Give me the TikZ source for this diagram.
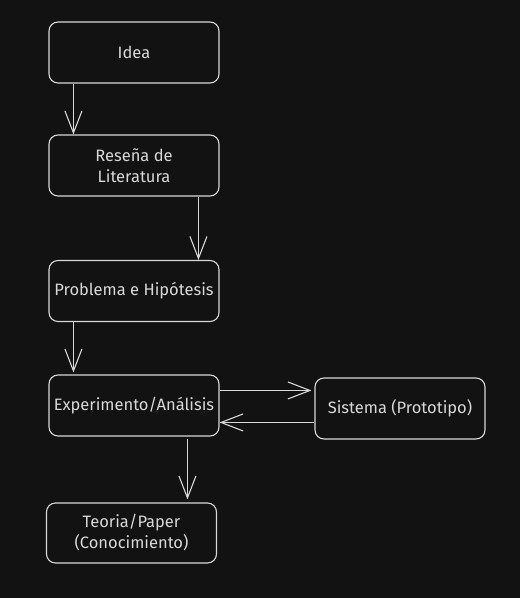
\documentclass[tikz,border=0pt]{standalone}
\usepackage{fontspec}
\setmainfont{Fira Sans}
\usetikzlibrary{arrows.meta}
\definecolor{bg}{HTML}{121212}
\definecolor{ink}{HTML}{D8D8D8}
\tikzset{
  box/.style={draw=ink, line width=1.1pt, rounded corners=9pt, minimum width=170pt, minimum height=61pt, inner sep=2pt, align=center, text=ink, font=\fontsize{16.5pt}{21pt}\selectfont},
  arr/.style={draw=ink, line width=1.1pt, -{Straight Barb[length=22pt,width=17pt,line width=1.1pt]}}
}
\begin{document}
\begin{tikzpicture}[x=1pt,y=1pt]
\fill[bg] (0,0) rectangle (520,-598);
\useasboundingbox (0,0) rectangle (520,-598);
\node[box] (idea) at (134,-52.5) {Idea};
\node[box] (res) at (134,-165.5) {Reseña de\\Literatura};
\node[box] (prob) at (134,-291) {Problema e Hipótesis};
\node[box] (exp) at (134,-405.5) {Experimento/Análisis};
\node[box] (sis) at (400,-408.5) {Sistema (Prototipo)};
\node[box, minimum height=60pt] (teo) at (131.5,-533) {Teoria/Paper\\(Conocimiento)};
\draw[arr] ([xshift=25pt]idea.south west) -- ([xshift=25pt]res.north west);
\draw[arr] ([xshift=150pt]res.south west) -- ([xshift=150pt]prob.north west);
\draw[arr] ([xshift=25pt]prob.south west) -- ([xshift=25pt,yshift=2pt]exp.north west);
\draw[arr] ([yshift=-16pt]exp.north east) -- ([xshift=-3pt,yshift=-13pt]sis.north west);
\draw[arr] ([yshift=-45pt]sis.north west) -- ([yshift=-48pt]exp.north east);
\draw[arr] ([xshift=139pt,yshift=-2pt]exp.south west) -- ([xshift=141.5pt,yshift=3pt]teo.north west);
\end{tikzpicture}
\end{document}
